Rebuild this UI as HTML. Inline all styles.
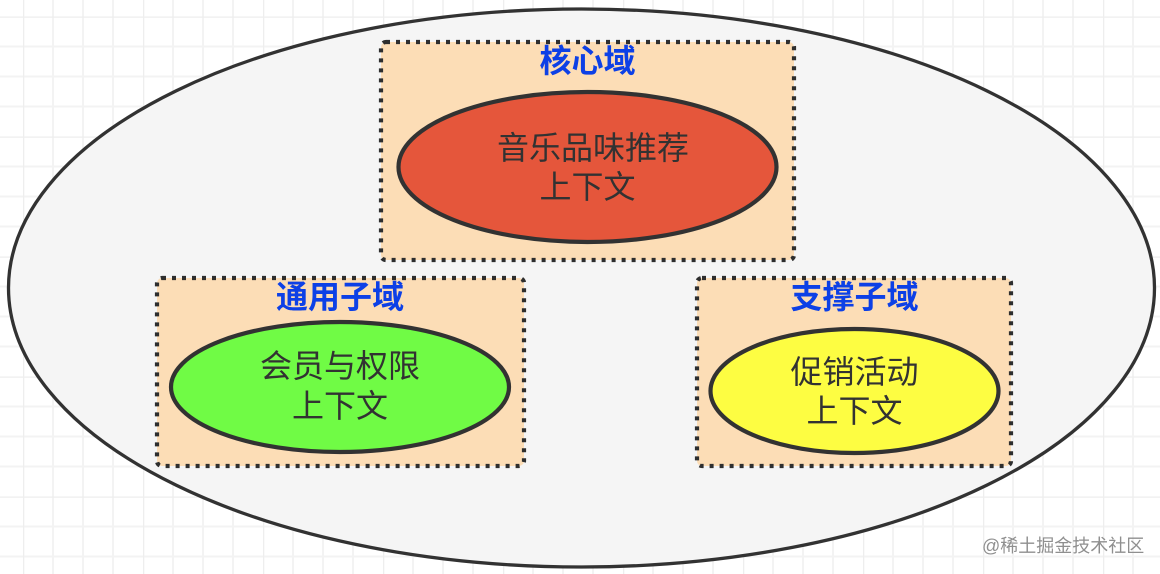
<!DOCTYPE html>
<html lang="zh">
<head>
<meta charset="utf-8">
<title>子域与上下文</title>
<style>
html,body{margin:0;padding:0;background:#fff;width:1160px;height:574px;overflow:hidden}
svg{display:block}
text{font-family:"Liberation Sans","Noto Sans CJK SC",sans-serif;font-size:32px;text-anchor:middle;fill:#333}
.t{fill:#0a3fe6;font-weight:700}
.w{font-size:18px;fill:#8f8f8f;text-anchor:start}
.box{fill:#fcddb6;stroke:#2d2d2d;stroke-width:4.2;stroke-dasharray:4 6}
.el{stroke:#333;stroke-width:4.2}
</style>
</head>
<body>
<svg width="1160" height="574" viewBox="0 0 1160 574" xmlns="http://www.w3.org/2000/svg">
<defs>
<pattern id="g" x="23" y="16.5" width="120" height="120" patternUnits="userSpaceOnUse">
<path d="M30 0V120M60 0V120M90 0V120M0 30H120M0 60H120M0 90H120" stroke="#f3f3f3" stroke-width="2" fill="none"/>
<path d="M0 0V120M0 0H120" stroke="#eeeeee" stroke-width="2.5" fill="none"/>
</pattern>
<filter id="b" filterUnits="userSpaceOnUse" x="0" y="0" width="1160" height="574"><feGaussianBlur stdDeviation="0.3"/></filter>
</defs>
<rect width="1160" height="574" fill="#fff"/>
<rect width="1160" height="574" fill="url(#g)"/>
<g filter="url(#b)">
<ellipse cx="581.5" cy="288" rx="573" ry="279" fill="#f5f5f5" stroke="#333" stroke-width="3.3"/>

<rect class="box" x="381" y="42" width="413" height="218" rx="5"/>
<ellipse class="el" cx="587.5" cy="167" rx="189" ry="75" fill="#e5563a"/>
<text class="t" x="587.5" y="72">核心域</text>
<text x="593" y="159">音乐品味推荐</text>
<text x="587.5" y="198">上下文</text>

<rect class="box" x="157" y="278" width="367" height="188" rx="5"/>
<ellipse class="el" cx="340" cy="387" rx="169" ry="65" fill="#6ffb45"/>
<text class="t" x="340" y="308">通用子域</text>
<text x="340" y="377">会员与权限</text>
<text x="340" y="417">上下文</text>

<rect class="box" x="697" y="278" width="314" height="188" rx="5"/>
<ellipse class="el" cx="854.5" cy="391" rx="144" ry="62" fill="#fdfd43"/>
<text class="t" x="854.5" y="308">支撑子域</text>
<text x="854.5" y="383">促销活动</text>
<text x="854.5" y="422">上下文</text>

<text class="w" x="982" y="552">@稀土掘金技术社区</text>
</g>
</svg>
</body>
</html>
